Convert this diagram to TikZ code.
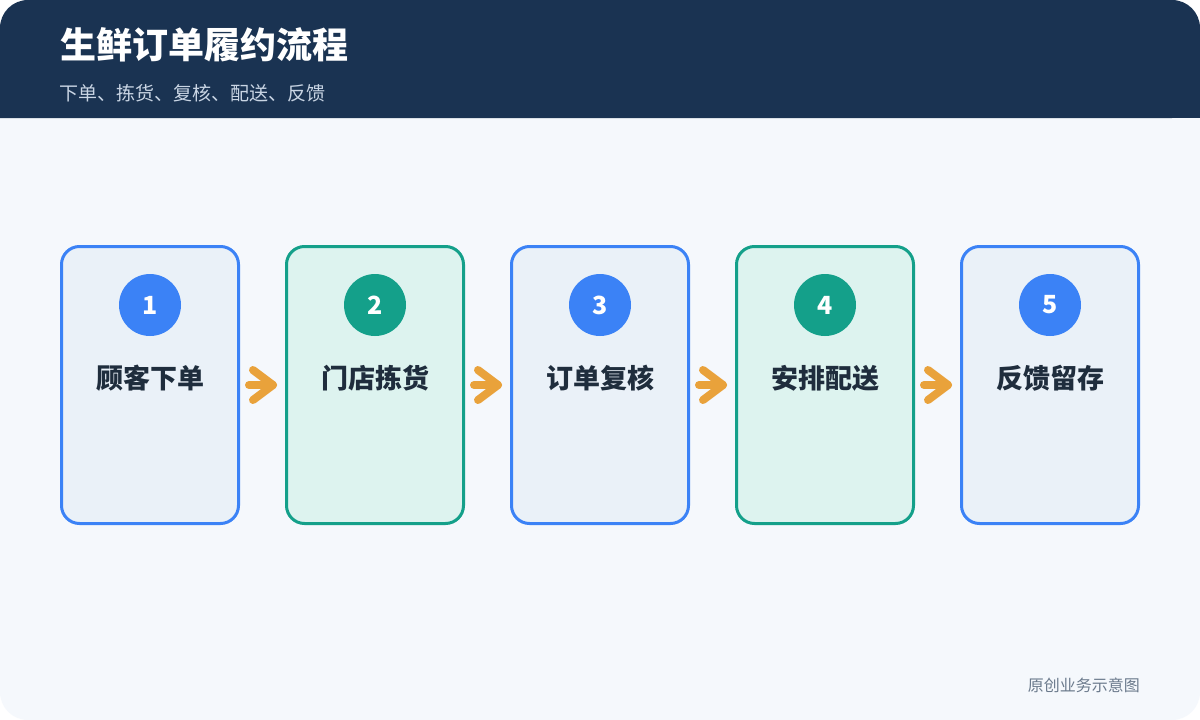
\documentclass[tikz,border=0pt]{standalone}
\usepackage{fontspec}
\setmainfont{Noto Sans CJK SC}
\usetikzlibrary{calc}
\definecolor{headbg}{HTML}{1A3352}
\definecolor{pagebg}{HTML}{F5F8FC}
\definecolor{subtxt}{HTML}{C9D5E4}
\definecolor{bblue}{HTML}{3B82F6}
\definecolor{fblue}{HTML}{EAF1F8}
\definecolor{bgreen}{HTML}{14A08A}
\definecolor{fgreen}{HTML}{DDF3EF}
\definecolor{darktxt}{HTML}{1F2D3D}
\definecolor{orng}{HTML}{E9A23B}
\definecolor{foot}{HTML}{6B7A8C}
\begin{document}
\begin{tikzpicture}[x=1pt,y=-1pt,
  stepbox/.style={draw, line width=3pt, rounded corners=18pt, minimum width=177pt, minimum height=277pt, inner sep=0pt},
  bluebox/.style={stepbox, draw=bblue, fill=fblue},
  greenbox/.style={stepbox, draw=bgreen, fill=fgreen},
  numc/.style={circle, minimum size=62pt, inner sep=0pt, text=white, font=\fontsize{25}{28}\selectfont\bfseries},
  lbl/.style={text=darktxt, font=\fontsize{27}{30}\selectfont\bfseries},
  flow/.style={draw=orng, line width=8pt, line cap=round, line join=round}
]
\useasboundingbox (0,0) rectangle (1200,720);
\fill[white] (0,0) rectangle (1200,720);
\fill[pagebg, rounded corners=28pt] (0,0) rectangle (1200,720);
\fill[headbg, rounded corners=28pt] (0,118) -- (0,0) -- (1200,0) -- (1200,118) [sharp corners] -- cycle;
\fill[headbg] (0,60) rectangle (1200,118);
\node[anchor=west, text=white, font=\fontsize{36}{40}\selectfont\bfseries, inner sep=0pt] (title) at (60,45) {生鲜订单履约流程};
\node[anchor=west, text=subtxt, font=\fontsize{19}{24}\selectfont, inner sep=0pt] (sub) at (59,93) {下单、拣货、复核、配送、反馈};

\node[bluebox]  (b1) at (150,385) {};
\node[greenbox] (b2) at (375,385) {};
\node[bluebox]  (b3) at (600,385) {};
\node[greenbox] (b4) at (825,385) {};
\node[bluebox]  (b5) at (1050,385) {};

\node[numc, fill=bblue]  (c1) at (150,305) {1};
\node[numc, fill=bgreen] (c2) at (375,305) {2};
\node[numc, fill=bblue]  (c3) at (600,305) {3};
\node[numc, fill=bgreen] (c4) at (825,305) {4};
\node[numc, fill=bblue]  (c5) at (1050,305) {5};

\node[lbl] (l1) at (150,378) {顾客下单};
\node[lbl] (l2) at (375,378) {门店拣货};
\node[lbl] (l3) at (600,378) {订单复核};
\node[lbl] (l4) at (825,378) {安排配送};
\node[lbl] (l5) at (1050,378) {反馈留存};

\foreach \a/\b in {b1/b2,b2/b3,b3/b4,b4/b5}{
  \coordinate (s-\a) at ($(\a.east)+(9,0)$);
  \coordinate (t-\a) at ($(\b.west)+(-12,0)$);
  \coordinate (u-\a) at ($(t-\a)+(-20,-15)$);
  \coordinate (d-\a) at ($(t-\a)+(-20,15)$);
  \draw[flow] (s-\a) -- (t-\a);
  \draw[flow] (u-\a) -- (t-\a) -- (d-\a);
}

\node[anchor=east, text=foot, font=\fontsize{16}{20}\selectfont, inner sep=0pt] (foot) at (1140,685) {原创业务示意图};
\end{tikzpicture}
\end{document}
